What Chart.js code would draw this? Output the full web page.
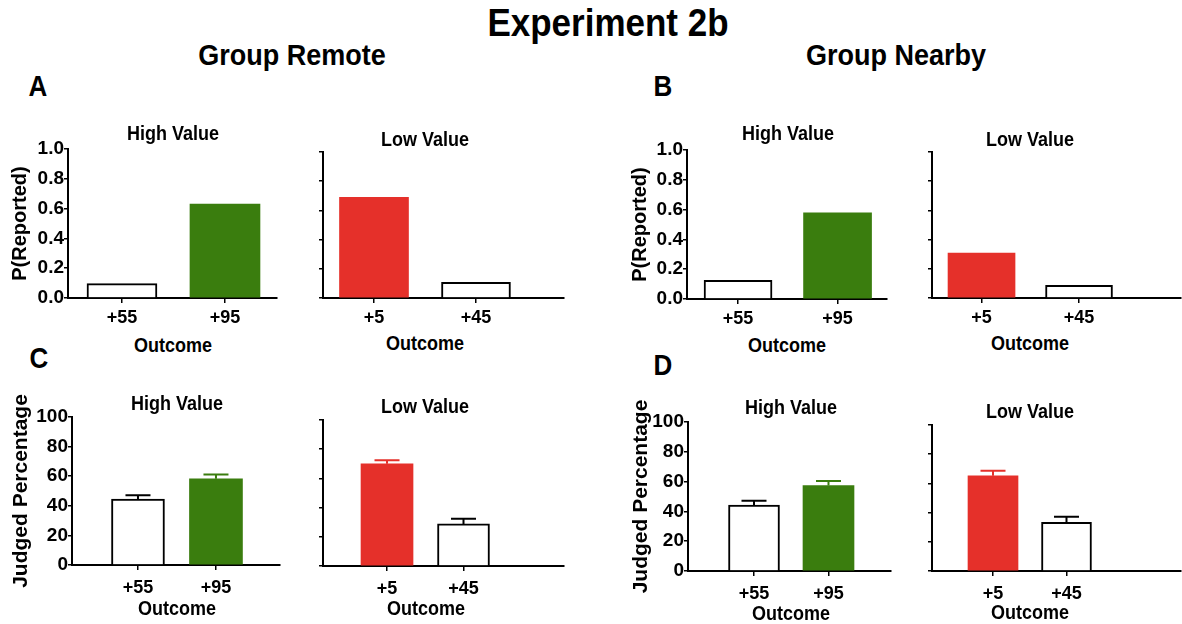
<!DOCTYPE html>
<html>
<head>
<meta charset="utf-8">
<title>Experiment 2b</title>
<script src="https://cdn.jsdelivr.net/npm/chart.js@4.4.0/dist/chart.umd.min.js"></script>
<style>
  html, body { margin: 0; padding: 0; background: #fff; }
  body {
    width: 1182px;
    height: 624px;
    position: relative;
    overflow: hidden;
    font-family: "Liberation Sans", Arial, Helvetica, sans-serif;
    font-weight: bold;
    color: #000;
  }
  canvas { position: absolute; }
  .txt {
    position: absolute;
    transform: translate(-50%, -50%) scaleY(1.1);
    white-space: nowrap;
    line-height: 1;
  }
</style>
</head>
<body>
<script>
const FONT = "'Liberation Sans', Arial, Helvetica, sans-serif";
const GREEN = "#3a7d0e";
const RED = "#e5302a";
const WHITE = "#ffffff";

// categories
const highOutcomes = ["+55", "+95"];
const lowOutcomes = ["+5", "+45"];

// P(Reported), panels A and B
const remoteHighReported = [0.096, 0.63];
const remoteLowReported = [0.69, 0.107];
const nearbyHighReported = [0.126, 0.578];
const nearbyLowReported = [0.308, 0.087];

// Judged percentage (mean and SEM), panels C and D
const remoteHighJudged = [44.5, 58.2];
const remoteHighJudgedErr = [2.7, 2.9];
const remoteLowJudged = [70, 28.8];
const remoteLowJudgedErr = [2.5, 3.5];
const nearbyHighJudged = [44.3, 57.3];
const nearbyHighJudgedErr = [2.9, 3.1];
const nearbyLowJudged = [65.2, 33.4];
const nearbyLowJudgedErr = [3.4, 3.7];

// y tick setups
const reportedTicks = { max: 1, step: 0.2, fmt: v => v.toFixed(1) };
const judgedTicks = { max: 100, step: 20, fmt: v => v };

const PAD_TOP = 32;
const X_AXIS_H = 34;

const errorBarPlugin = {
  id: "errorBars",
  afterDatasetsDraw(chart) {
    const ds = chart.data.datasets[0];
    if (!ds.errors) return;
    const ctx = chart.ctx;
    const yScale = chart.scales.y;
    chart.getDatasetMeta(0).data.forEach((bar, i) => {
      const top = yScale.getPixelForValue(ds.data[i].y + ds.errors[i]);
      ctx.save();
      ctx.strokeStyle = ds.errorColors[i];
      ctx.lineWidth = 2;
      ctx.beginPath();
      ctx.moveTo(bar.x, bar.y);
      ctx.lineTo(bar.x, top);
      ctx.moveTo(bar.x - 12.5, top);
      ctx.lineTo(bar.x + 12.5, top);
      ctx.stroke();
      ctx.restore();
    });
  }
};

function addText(text, x, y, size) {
  const div = document.createElement("div");
  div.className = "txt";
  div.textContent = text;
  div.style.left = x + "px";
  div.style.top = y + "px";
  div.style.fontSize = size + "px";
  document.body.appendChild(div);
}

function makePanel(p) {
  const [L, T, R, B] = p.area;
  const left = L - p.yw;
  const top = T - PAD_TOP;
  const width = R + 2 - left;
  const height = (B - T) + PAD_TOP + X_AXIS_H;

  const canvas = document.createElement("canvas");
  canvas.width = width;
  canvas.height = height;
  canvas.style.left = left + "px";
  canvas.style.top = top + "px";
  canvas.style.width = width + "px";
  canvas.style.height = height + "px";
  document.body.appendChild(canvas);

  const fills = p.colors;
  const borders = fills.map(c => (c === WHITE ? "#000" : c));
  const showLabels = !!p.yTitle;

  new Chart(canvas, {
    type: "bar",
    data: {
      datasets: [{
        data: p.values.map((v, i) => ({ x: i + 1, y: v })),
        backgroundColor: fills,
        borderColor: borders,
        borderWidth: fills.map(c => (c === WHITE ? 2 : 0)),
        borderSkipped: "start",
        barThickness: p.barWidth,
        errors: p.errors,
        errorColors: borders
      }]
    },
    options: {
      responsive: false,
      devicePixelRatio: 1,
      animation: false,
      layout: { padding: { top: PAD_TOP, right: 2, left: 0, bottom: 0 } },
      plugins: {
        legend: { display: false },
        tooltip: { enabled: false }
      },
      scales: {
        x: {
          type: "linear",
          offset: false,
          min: p.xMin,
          max: p.xMax,
          afterBuildTicks: scale => {
            scale.ticks = p.labels.map((_, i) => ({ value: i + 1 }));
          },
          afterFit: scale => { scale.height = X_AXIS_H; },
          ticks: {
            color: "#000",
            padding: p.xPad,
            font: { family: FONT, size: 18, weight: "bold" },
            callback: value => p.labels[value - 1]
          },
          grid: {
            offset: false,
            drawOnChartArea: false,
            drawTicks: true,
            tickLength: 5,
            color: "#000",
            lineWidth: 1.5
          },
          border: { display: true, color: "#000", width: 2 }
        },
        y: {
          min: 0,
          max: p.ticks.max,
          afterFit: scale => { scale.width = p.yw; },
          ticks: {
            display: showLabels,
            stepSize: p.ticks.step,
            color: "#000",
            padding: 0,
            font: { family: FONT, size: 19, weight: "bold" },
            callback: value => p.ticks.fmt(value)
          },
          grid: {
            drawOnChartArea: false,
            drawTicks: true,
            tickLength: 4,
            color: "#000",
            lineWidth: 1.5
          },
          border: { display: true, color: "#000", width: 2 },
          title: {
            display: showLabels,
            text: p.yTitle || "",
            color: "#000",
            font: { family: FONT, size: p.yTitleSize || 20, weight: "bold" },
            padding: { top: p.yTitlePad || 8, bottom: 0 }
          }
        }
      }
    },
    plugins: [errorBarPlugin]
  });

  addText(p.title, p.titleAt[0], p.titleAt[1], 18);
  addText("Outcome", p.outcomeAt[0], p.outcomeAt[1], 18);
}

const panels = [
  {
    labels: highOutcomes, values: remoteHighReported, errors: null,
    colors: [WHITE, GREEN], ticks: reportedTicks, yTitle: "P(Reported)",
    area: [68, 149, 277, 298], yw: 68, xMin: 0.476, xMax: 2.505, barWidth: 70, xPad: 4,
    title: "High Value", titleAt: [173, 133], outcomeAt: [173, 345]
  },
  {
    labels: lowOutcomes, values: remoteLowReported, errors: null,
    colors: [RED, WHITE], ticks: reportedTicks, yTitle: null,
    area: [323, 152, 564, 298], yw: 20, xMin: 0.5, xMax: 2.863, barWidth: 69, xPad: 4,
    title: "Low Value", titleAt: [425, 139], outcomeAt: [425, 343]
  },
  {
    labels: highOutcomes, values: nearbyHighReported, errors: null,
    colors: [WHITE, GREEN], ticks: reportedTicks, yTitle: "P(Reported)",
    area: [687, 150, 887, 299], yw: 67, xMin: 0.487, xMax: 2.497, barWidth: 68, xPad: 4,
    title: "High Value", titleAt: [788, 133], outcomeAt: [787, 345]
  },
  {
    labels: lowOutcomes, values: nearbyLowReported, errors: null,
    colors: [RED, WHITE], ticks: reportedTicks, yTitle: null,
    area: [932, 152, 1181, 298], yw: 20, xMin: 0.492, xMax: 3.046, barWidth: 67, xPad: 4,
    title: "Low Value", titleAt: [1030, 139], outcomeAt: [1030, 343]
  },
  {
    labels: highOutcomes, values: remoteHighJudged, errors: remoteHighJudgedErr,
    colors: [WHITE, GREEN], ticks: judgedTicks, yTitle: "Judged Percentage",
    area: [72, 417, 280, 565], yw: 72, xMin: 0.154, xMax: 2.821, barWidth: 53, xPad: 7,
    title: "High Value", titleAt: [177, 403], outcomeAt: [177, 608], yTitlePad: 9, yTitleSize: 21
  },
  {
    labels: lowOutcomes, values: remoteLowJudged, errors: remoteLowJudgedErr,
    colors: [RED, WHITE], ticks: judgedTicks, yTitle: null,
    area: [323, 420, 564, 566], yw: 20, xMin: 0.163, xMax: 3.314, barWidth: 52, xPad: 7,
    title: "Low Value", titleAt: [425, 406], outcomeAt: [426, 608]
  },
  {
    labels: highOutcomes, values: nearbyHighJudged, errors: nearbyHighJudgedErr,
    colors: [WHITE, GREEN], ticks: judgedTicks, yTitle: "Judged Percentage",
    area: [688, 422, 891, 571], yw: 68, xMin: 0.114, xMax: 2.839, barWidth: 51, xPad: 7,
    title: "High Value", titleAt: [791, 407], outcomeAt: [791, 613], yTitlePad: 9, yTitleSize: 21
  },
  {
    labels: lowOutcomes, values: nearbyLowJudged, errors: nearbyLowJudgedErr,
    colors: [RED, WHITE], ticks: judgedTicks, yTitle: null,
    area: [932, 425, 1181, 571], yw: 20, xMin: 0.17, xMax: 3.558, barWidth: 50, xPad: 7,
    title: "Low Value", titleAt: [1030, 411], outcomeAt: [1030, 612]
  }
];

panels.forEach(makePanel);

addText("Experiment 2b", 608, 22, 35);
addText("Group Remote", 292, 56, 27);
addText("Group Nearby", 896, 56, 27);
addText("A", 38, 86, 26);
addText("B", 663, 86, 26);
addText("C", 39, 358, 26);
addText("D", 663, 365, 26);
</script>
</body>
</html>
